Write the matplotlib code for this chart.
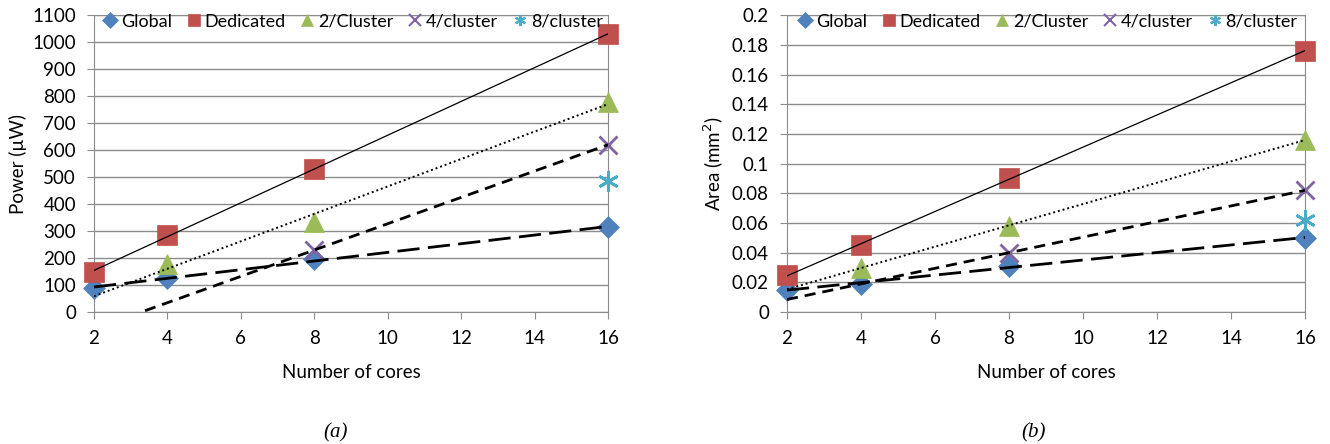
import numpy as np
import matplotlib
matplotlib.use("Agg")
import matplotlib.pyplot as plt
from matplotlib.lines import Line2D

plt.rcParams['font.family'] = ['Lato', 'DejaVu Sans']

# series names and x positions
series = ["Global", "Dedicated", "2/Cluster", "4/cluster", "8/cluster"]
cores_global = [2, 4, 8, 16]
cores_dedicated = [2, 4, 8, 16]
cores_2cl = [4, 8, 16]
cores_4cl = [8, 16]
cores_8cl = [16]

# power (uW)
power_global = [90, 125, 195, 315]
power_dedicated = [150, 285, 530, 1030]
power_2cl = [180, 335, 780]
power_4cl = [230, 620]
power_8cl = [485]

# area (mm^2)
area_global = [0.015, 0.019, 0.031, 0.050]
area_dedicated = [0.025, 0.045, 0.090, 0.176]
area_2cl = [0.030, 0.058, 0.116]
area_4cl = [0.040, 0.082]
area_8cl = [0.062]

colors = ["#4F81BD", "#C0504D", "#9BBB59", "#8064A2", "#4BACC6"]
markers = ["D", "s", "^", "x", (6, 2, 0)]
msizes = [11, 15, 14, 13, 15]
trend_styles = [
    dict(ls=(0, (8, 3)), lw=2.0),
    dict(ls="-", lw=0.9),
    dict(ls=(0, (1, 1.5)), lw=1.4),
    dict(ls=(0, (4, 2.5)), lw=2.0),
    None,
]


def draw(ax, xs, ys, ylim, yticks, ylabel, ticklabels):
    for i in range(5):
        x = np.array(xs[i], dtype=float)
        y = np.array(ys[i], dtype=float)
        ax.plot(x, y, linestyle="none", marker=markers[i], color=colors[i],
                markersize=msizes[i], markeredgewidth=2 if i >= 3 else 0.5,
                markeredgecolor=colors[i], zorder=3, clip_on=False)
        if trend_styles[i] is not None and len(x) > 1:
            k, b = np.polyfit(x, y, 1)
            xt = np.array([2.0, 16.0])
            ax.plot(xt, k * xt + b, color="black", zorder=4, **trend_styles[i])
    ax.set_xlim(2, 16)
    ax.set_ylim(*ylim)
    ax.set_xticks(range(2, 17, 2))
    ax.set_yticks(yticks)
    ax.set_yticklabels(ticklabels)
    ax.grid(axis="y", color="#8c8c8c", lw=1)
    ax.set_axisbelow(True)
    for s in ax.spines.values():
        s.set_color("#8c8c8c")
    ax.tick_params(colors="#8c8c8c", labelcolor="black", labelsize=13.5,
                   length=5, direction="out")
    ax.tick_params(axis="x", pad=8)
    ax.tick_params(axis="y", pad=8)
    ax.set_xlabel("Number of cores", fontsize=13.5, labelpad=12)
    ax.set_ylabel(ylabel, fontsize=13.5, labelpad=4)
    handles = [Line2D([], [], ls="none", marker=markers[i], color=colors[i],
                      markersize=8, markeredgewidth=1.5 if i >= 3 else 0.5)
               for i in range(5)]
    ax.legend(handles, series, loc="center", ncol=5, frameon=False,
              fontsize=13, handletextpad=0.0, columnspacing=0.6,
              handlelength=1.2, borderaxespad=0.0, borderpad=0.0,
              bbox_to_anchor=(0.5, 0.978))


fig = plt.figure(figsize=(13.3, 4.44), dpi=100)
ax1 = fig.add_axes([0.0707, 0.297, 0.3865, 0.669])
ax2 = fig.add_axes([0.5917, 0.297, 0.3895, 0.669])

draw(ax1,
     [cores_global, cores_dedicated, cores_2cl, cores_4cl, cores_8cl],
     [power_global, power_dedicated, power_2cl, power_4cl, power_8cl],
     (0, 1100), range(0, 1101, 100), "Power (\u00b5W)",
     [str(v) for v in range(0, 1101, 100)])

area_ticks = [round(0.02 * i, 2) for i in range(11)]
draw(ax2,
     [cores_global, cores_dedicated, cores_2cl, cores_4cl, cores_8cl],
     [area_global, area_dedicated, area_2cl, area_4cl, area_8cl],
     (0, 0.2), area_ticks, "Area (mm$^2$)",
     ["0"] + [("%g" % v) for v in area_ticks[1:]])

fig.text(0.252, 0.015, "(a)", fontsize=15, style="italic",
         family="Liberation Serif", ha="center")
fig.text(0.777, 0.015, "(b)", fontsize=15, style="italic",
         family="Liberation Serif", ha="center")

fig.savefig("out.png", dpi=100)
